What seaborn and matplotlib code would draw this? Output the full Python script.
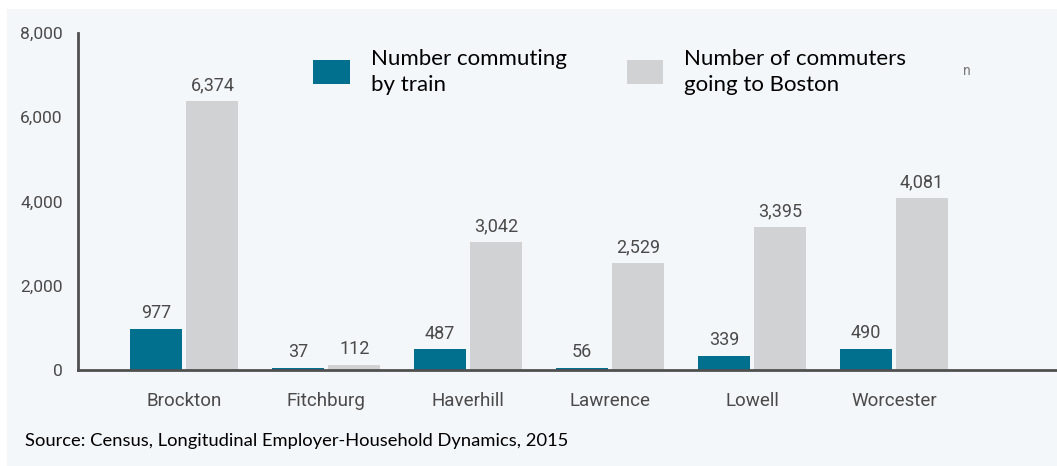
import matplotlib
matplotlib.use("Agg")
import matplotlib.pyplot as plt
import matplotlib.patches as mpatches
import seaborn as sns
import pandas as pd

cities = ["Brockton", "Fitchburg", "Haverhill", "Lawrence", "Lowell", "Worcester"]
by_train = [977, 37, 487, 56, 339, 490]
to_boston = [6374, 112, 3042, 2529, 3395, 4081]
series_names = ["Number commuting\nby train", "Number of commuters\ngoing to Boston"]
y_ticks = [0, 2000, 4000, 6000, 8000]
source_text = "Source: Census, Longitudinal Employer-Household Dynamics, 2015"

df = pd.DataFrame({
    "city": cities * 2,
    "value": by_train + to_boston,
    "series": [series_names[0]] * len(cities) + [series_names[1]] * len(cities),
})

sns.set_theme(style="white")
cond = ["Roboto", "DejaVu Sans"]
body = ["Lato", "DejaVu Sans"]
plt.rcParams["font.family"] = body

BG = "#f3f7fa"
TEAL = "#00708e"
GRAY = "#d1d2d4"
AX = "#505050"
LBL = "#4a4a4a"

fig = plt.figure(figsize=(10.57, 4.66), dpi=100)
fig.patch.set_facecolor("white")
fig.patches.append(mpatches.Rectangle((7 / 1057, 0), 1 - 7 / 1057, 1 - 9 / 466,
                                      transform=fig.transFigure, facecolor=BG,
                                      edgecolor="none", zorder=-10))

ax = fig.add_axes([78 / 1057, 96 / 466, 1 - 78 / 1057, (370 - 33) / 466])
ax.set_facecolor("none")

sns.barplot(data=df, x="city", y="value", hue="series", order=cities,
            hue_order=series_names, palette=[TEAL, GRAY], width=0.79, gap=0.07,
            saturation=1, errorbar=None, ax=ax, legend=True,
            edgecolor="none", linewidth=0)

for cont in ax.containers:
    ax.bar_label(cont, labels=[f"{v:,.0f}" for v in cont.datavalues], padding=5,
                 color=LBL, fontsize=13, family=cond)

ax.set_xlim(-0.75, 6.15)
ax.set_ylim(0, 8000)
ax.set_yticks(y_ticks)
ax.set_yticklabels([f"{t:,}" for t in y_ticks], color=LBL, fontsize=12.5, family=cond)
ax.set_xticks(range(len(cities)))
ax.set_xticklabels(cities, color=LBL, fontsize=13.5, family=cond)
ax.tick_params(axis="y", direction="in", length=9, width=2, color=AX, pad=11)
ax.tick_params(axis="x", length=0, pad=16)
ax.set_xlabel("")
ax.set_ylabel("")

for s in ["top", "right"]:
    ax.spines[s].set_visible(False)
for s in ["left", "bottom"]:
    ax.spines[s].set_color(AX)
    ax.spines[s].set_linewidth(2)

handles, labels = ax.get_legend_handles_labels()
leg = ax.legend(handles, labels, ncol=2, frameon=False, loc="upper left",
                bbox_to_anchor=(313 / 1057, 1 - 49 / 466), bbox_transform=fig.transFigure,
                fontsize=16, handlelength=1.65, handleheight=1.3, handletextpad=0.95,
                columnspacing=2.7, borderpad=0, borderaxespad=0, labelspacing=0.2)
for t in leg.get_texts():
    t.set_color("black")
    t.set_linespacing(1.35)

fig.text(967 / 1057, 1 - 71 / 466, "n", color="#777777", fontsize=10, family=cond,
         ha="center", va="center")
fig.text(25 / 1057, 1 - 441 / 466, source_text, color="black", fontsize=13.2,
         ha="left", va="center")

fig.savefig("out.png", dpi=100)
